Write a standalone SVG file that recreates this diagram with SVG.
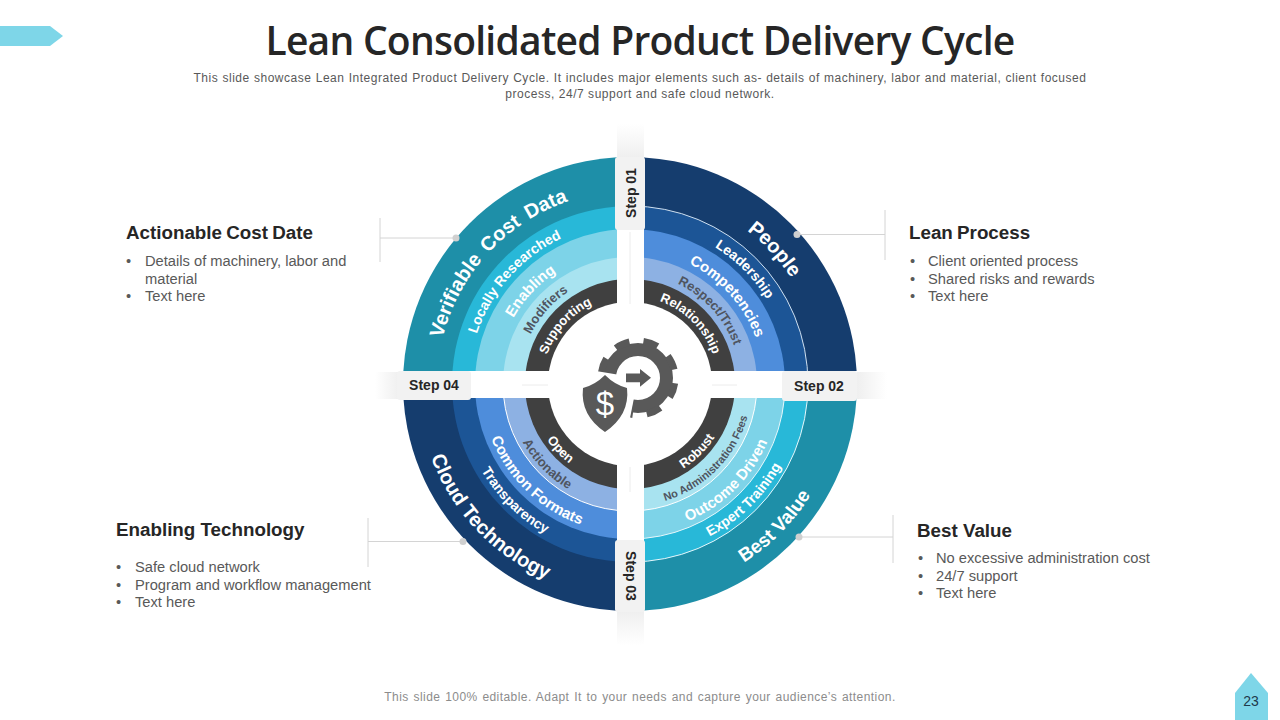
<svg xmlns="http://www.w3.org/2000/svg" width="1280" height="720" viewBox="0 0 1280 720">
<style>
text{font-family:"Liberation Sans",Arial,sans-serif}
.h{font-size:18.8px;font-weight:700;fill:#262626}
.b{font-size:14.7px;fill:#595959}
.s{font-size:14px;font-weight:700;fill:#262626;text-anchor:middle}
.tag{fill:#f2f2f2}
.lead{stroke:#d4d4d4;stroke-width:1;fill:none}
.dot{fill:#d0d0d0}
.d{font-size:12px;fill:#595959;letter-spacing:.53px}
.w{fill:#fff;font-weight:700}
.g{fill:#4f5560;font-weight:700}
.f19{font-size:19px}.f20{font-size:20px}.f15{font-size:15px}.f14{font-size:14px}.f13{font-size:13px}.f11{font-size:11px}
.k{fill:#595959}
</style>
<defs>
<clipPath id="q1"><rect x="644" y="100" width="260" height="271"/></clipPath>
<clipPath id="q2"><rect x="644" y="398" width="260" height="260"/></clipPath>
<clipPath id="q3"><rect x="360" y="398" width="257" height="260"/></clipPath>
<clipPath id="q4"><rect x="360" y="100" width="257" height="271"/></clipPath>
<linearGradient id="sv" x1="0" y1="0" x2="0" y2="1"><stop offset="0" stop-color="#efefef" stop-opacity="0"/><stop offset="1" stop-color="#efefef"/></linearGradient>
<linearGradient id="sh" x1="0" y1="0" x2="1" y2="0"><stop offset="0" stop-color="#efefef" stop-opacity="0"/><stop offset="1" stop-color="#efefef"/></linearGradient>
<path id="t88" d="M542 384A88 88 0 0 1 718 384"/>
<path id="t111" d="M519 384A111 111 0 0 1 741 384"/>
<path id="t134" d="M496 384A134 134 0 0 1 764 384"/>
<path id="t161" d="M469 384A161 161 0 0 1 791 384"/>
<path id="t193" d="M437 384A193 193 0 0 1 823 384"/>
<path id="b100" d="M530 384A100 100 0 0 0 730 384"/>
<path id="b122" d="M508 384A122 122 0 0 0 752 384"/>
<path id="b149" d="M481 384A149 149 0 0 0 779 384"/>
<path id="b172" d="M458 384A172 172 0 0 0 802 384"/>
<path id="b212" d="M418 384A212 212 0 0 0 842 384"/>
</defs>
<rect width="1280" height="720" fill="#fff"/>
<polygon id="corner-tab" points="0,26 50,26 63,36 50,46 0,46" fill="#7ed6e8"/>
<text id="title" x="640" y="55" text-anchor="middle" style="font-family:'Open Sans',sans-serif;font-size:39px;font-weight:600;fill:#262626" letter-spacing="-0.75">Lean Consolidated Product Delivery Cycle</text>
<g id="subtitle">
<text class="d" x="640" y="82" text-anchor="middle" word-spacing="0.3">This slide showcase Lean Integrated  Product Delivery  Cycle. It includes major elements such as- details of machinery, labor and material, client focused</text>
<text class="d" x="640" y="98" text-anchor="middle">process, 24/7 support and safe cloud network.</text>
</g>
<g id="cross-strips">
<rect x="617" y="124" width="27" height="34" fill="url(#sv)"/>
<rect x="617" y="611" width="27" height="34" fill="url(#sv)" transform="rotate(180 630.5 628)"/>
<rect x="375" y="372" width="24" height="27" fill="url(#sh)"/>
<rect x="857" y="372" width="30" height="27" fill="url(#sh)" transform="rotate(180 872 385.5)"/>
</g>
<g id="quadrant-people" clip-path="url(#q1)">
<circle cx="630" cy="384" r="227" fill="#153d6e"/>
<circle cx="630" cy="384" r="178" fill="#1c5596" stroke="#cfe0f0" stroke-width="1"/>
<circle cx="630" cy="384" r="155" fill="#4e8ddb"/>
<circle cx="630" cy="384" r="127" fill="#8db1e3"/>
<circle cx="630" cy="384" r="105" fill="#404040"/>
<circle cx="630" cy="384" r="82" fill="#fff"/>
</g>
<g id="quadrant-best-value" clip-path="url(#q2)">
<circle cx="630" cy="384" r="227" fill="#1e8fa8"/>
<circle cx="630" cy="384" r="178" fill="#28b8d8" stroke="#e6f7fb" stroke-width="1"/>
<circle cx="630" cy="384" r="155" fill="#7dd3e8" stroke="#e6f7fb" stroke-width="1"/>
<circle cx="630" cy="384" r="127" fill="#a8e3f0" stroke="#fff" stroke-width="1"/>
<circle cx="630" cy="384" r="105" fill="#404040"/>
<circle cx="630" cy="384" r="82" fill="#fff"/>
</g>
<g id="quadrant-cloud" clip-path="url(#q3)">
<circle cx="630" cy="384" r="227" fill="#153d6e"/>
<circle cx="630" cy="384" r="178" fill="#1c5596"/>
<circle cx="630" cy="384" r="155" fill="#4e8ddb"/>
<circle cx="630" cy="384" r="127" fill="#8db1e3" stroke="#fff" stroke-width="1"/>
<circle cx="630" cy="384" r="105" fill="#404040"/>
<circle cx="630" cy="384" r="82" fill="#fff"/>
</g>
<g id="quadrant-verifiable" clip-path="url(#q4)">
<circle cx="630" cy="384" r="227" fill="#1e8fa8"/>
<circle cx="630" cy="384" r="178" fill="#28b8d8"/>
<circle cx="630" cy="384" r="155" fill="#7dd3e8"/>
<circle cx="630" cy="384" r="127" fill="#a8e3f0"/>
<circle cx="630" cy="384" r="105" fill="#404040"/>
<circle cx="630" cy="384" r="82" fill="#fff"/>
</g>
<g id="ring-labels" text-anchor="middle">
<text class="w f20" transform="rotate(-47.5 630 384)" word-spacing="3"><textPath href="#t193" startOffset="50%">Verifiable Cost Data</textPath></text>
<text class="w f14" transform="rotate(-48.5 630 384)"><textPath href="#t161" startOffset="50%">Locally Researched</textPath></text>
<text class="w f15" transform="rotate(-47 630 384)"><textPath href="#t134" startOffset="50%">Enabling</textPath></text>
<text class="g f13" transform="rotate(-48.6 630 384)"><textPath href="#t111" startOffset="50%">Modifiers</textPath></text>
<text class="w f13" transform="rotate(-48 630 384)"><textPath href="#t88" startOffset="50%">Supporting</textPath></text>
<text class="w f20" transform="rotate(47 630 384)"><textPath href="#t193" startOffset="50%">People</textPath></text>
<text class="w f14" transform="rotate(45 630 384)"><textPath href="#t161" startOffset="50%">Leadership</textPath></text>
<text class="w f15" transform="rotate(48 630 384)"><textPath href="#t134" startOffset="50%">Competencies</textPath></text>
<text class="g f13" transform="rotate(47.5 630 384)"><textPath href="#t111" startOffset="50%">Respect/Trust</textPath></text>
<text class="w f13" transform="rotate(45 630 384)"><textPath href="#t88" startOffset="50%">Relationship</textPath></text>
<text class="w f19" transform="rotate(-45.5 630 384)"><textPath href="#b212" startOffset="50%">Best Value</textPath></text>
<text class="w f14" transform="rotate(-44.5 630 384)"><textPath href="#b172" startOffset="50%">Expert Training</textPath></text>
<text class="w f15" transform="rotate(-45 630 384)"><textPath href="#b149" startOffset="50%">Outcome Driven</textPath></text>
<text class="g f11" transform="rotate(-45.6 630 384)"><textPath href="#b122" startOffset="50%">No Administration Fees</textPath></text>
<text class="w f13" transform="rotate(-45 630 384)"><textPath href="#b100" startOffset="50%">Robust</textPath></text>
<text class="w f20" transform="rotate(46.5 630 384)"><textPath href="#b212" startOffset="50%">Cloud Technology</textPath></text>
<text class="w f14" transform="rotate(44.6 630 384)"><textPath href="#b172" startOffset="50%">Transparency</textPath></text>
<text class="w f15" transform="rotate(44 630 384)"><textPath href="#b149" startOffset="50%">Common Formats</textPath></text>
<text class="g f13" transform="rotate(46 630 384)"><textPath href="#b122" startOffset="50%">Actionable</textPath></text>
<text class="w f13" transform="rotate(46.7 630 384)"><textPath href="#b100" startOffset="50%">Open</textPath></text>
</g>
<g id="step-01"><rect class="tag" x="615" y="157" width="30" height="73" rx="3"/><text class="s" transform="translate(636 193) rotate(-90)">Step 01</text></g>
<g id="step-02"><rect class="tag" x="782" y="371" width="75" height="30" rx="3"/><text class="s" x="819" y="391">Step 02</text></g>
<g id="step-03"><rect class="tag" x="615" y="540" width="30" height="72" rx="3"/><text class="s" transform="translate(626 576) rotate(90)">Step 03</text></g>
<g id="step-04"><rect class="tag" x="397" y="371" width="74" height="29" rx="3"/><text class="s" x="434" y="390">Step 04</text></g>
<g id="hub">
<circle cx="638" cy="378" r="28.5" fill="none" stroke="#595959" stroke-width="13"/>
<circle cx="638" cy="378" r="37" fill="none" stroke="#595959" stroke-width="7" stroke-dasharray="15 14.06" transform="rotate(8 638 378)"/>
<polygon points="638,378 596,371 585,425 628,428" fill="#fff"/>
<polygon class="k" points="626,373.500 640,373.500 640,369 651,377.700 640,386.700 640,382.300 626,382.300"/>
<path class="k" d="M605 375Q615 385 627 388Q630 415 605 432Q580 415 583 388Q595 385 605 375Z"/>
<text x="605" y="415" text-anchor="middle" font-size="33" fill="#fff">$</text>
</g>
<g id="connectors">
<path class="lead" d="M380 218V262M380 238H456"/>
<circle class="dot" cx="456" cy="238" r="3.500"/>
<path class="lead" d="M885 210V260M885 234.500H797"/>
<circle class="dot" cx="797" cy="234.500" r="3.500"/>
<path class="lead" d="M893 515V563M893 537H799"/>
<circle class="dot" cx="799" cy="537" r="3.500"/>
<path class="lead" d="M368 518V567M368 541.500H463"/>
<circle class="dot" cx="463" cy="541.500" r="3.500"/>
<path class="lead" d="M630 232V304M630 467V492M522 385H548M712 385H737" style="stroke:#ececec"/>
</g>
<g id="card-actionable">
<text class="h" x="126" y="239" word-spacing="-1">Actionable Cost Date</text>
<text class="b" x="126" y="266">•</text><text class="b" x="145" y="266">Details of machinery, labor and</text>
<text class="b" x="145" y="284">material</text>
<text class="b" x="126" y="301">•</text><text class="b" x="145" y="301">Text here</text>
</g>
<g id="card-lean">
<text class="h" x="909" y="239" word-spacing="-1">Lean Process</text>
<text class="b" x="910" y="266">•</text><text class="b" x="928" y="266">Client oriented process</text>
<text class="b" x="910" y="284">•</text><text class="b" x="928" y="284">Shared risks and rewards</text>
<text class="b" x="910" y="301">•</text><text class="b" x="928" y="301">Text here</text>
</g>
<g id="card-enabling">
<text class="h" x="116" y="536">Enabling Technology</text>
<text class="b" x="116" y="572">•</text><text class="b" x="135" y="572">Safe cloud network</text>
<text class="b" x="116" y="590">•</text><text class="b" x="135" y="590">Program and workflow management</text>
<text class="b" x="116" y="607">•</text><text class="b" x="135" y="607">Text here</text>
</g>
<g id="card-best">
<text class="h" x="917" y="537">Best Value</text>
<text class="b" x="918" y="563">•</text><text class="b" x="936" y="563">No excessive administration cost</text>
<text class="b" x="918" y="581">•</text><text class="b" x="936" y="581">24/7 support</text>
<text class="b" x="918" y="598">•</text><text class="b" x="936" y="598">Text here</text>
</g>
<text id="footer" x="640" y="701" text-anchor="middle" font-size="12" fill="#8c8c8c" word-spacing="1" letter-spacing=".44">This slide 100% editable. Adapt  It to your needs and capture your audience’s attention.</text>
<g id="page-tab"><polygon points="1251,673 1268,693 1268,720 1235,720 1235,693" fill="#7ed6e8"/><text x="1251" y="706" text-anchor="middle" font-size="14" fill="#1f3a4a">23</text></g>
</svg>
